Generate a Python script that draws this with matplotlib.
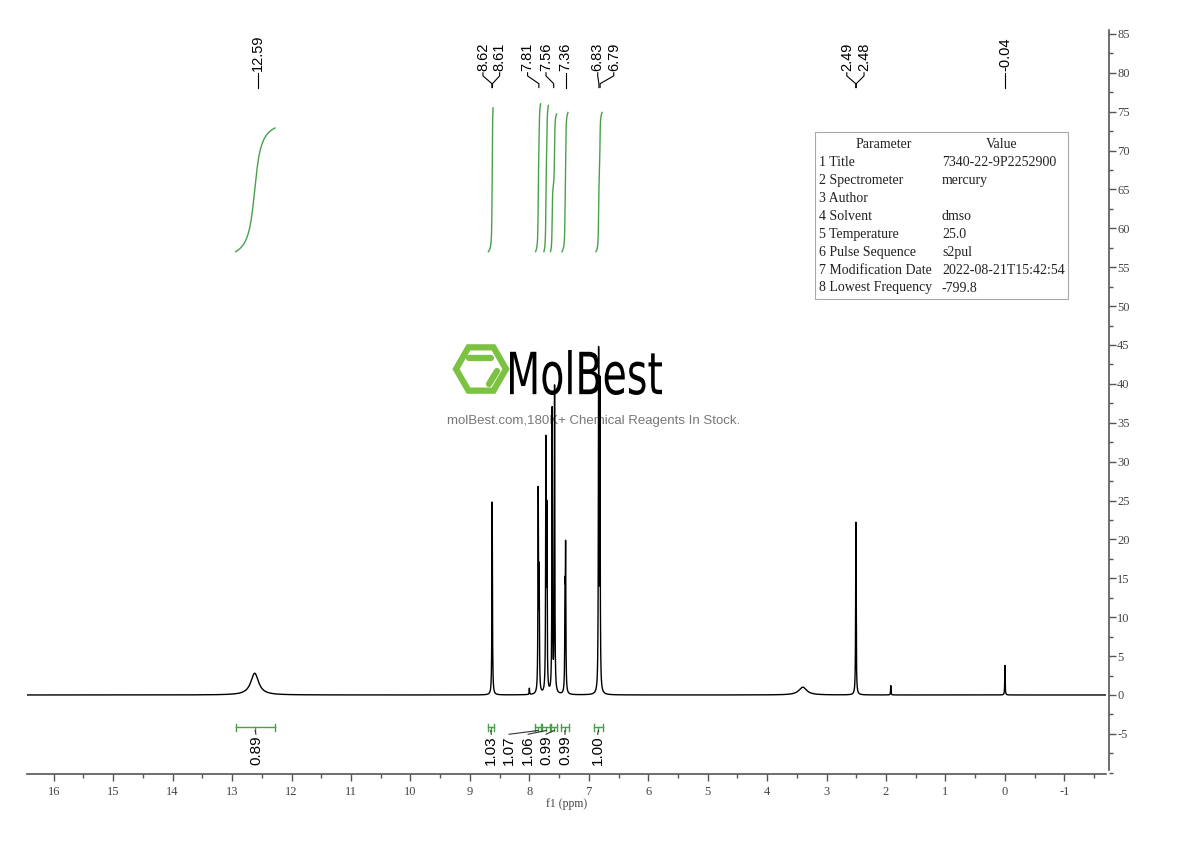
import numpy as np
import matplotlib
matplotlib.use("Agg")
import matplotlib.pyplot as plt
from matplotlib.patches import RegularPolygon, Rectangle, PathPatch
from matplotlib.textpath import TextPath
from matplotlib.font_manager import FontProperties
from matplotlib.transforms import Affine2D
from matplotlib.ticker import FixedLocator, MultipleLocator

plt.rcParams['font.family'] = ['Liberation Sans', 'DejaVu Sans']

# ---------------- data ----------------
# spectrum peaks (ppm, height, half width at half max)
peak_ppm = [12.62, 8.625, 8.000, 7.851, 7.835, 7.722, 7.705, 7.616, 7.576,
            7.400, 7.390, 6.835, 6.813, 3.40, 2.507, 1.92, 0.00]
peak_height = [2.8, 24.8, 0.8, 25.4, 14.7, 31.4, 22.3, 36.3, 39.2,
               11.5, 17.5, 42.9, 38.9, 1.0, 22.2, 1.2, 3.8]
peak_hwhm = [0.08, 0.005, 0.004, 0.005, 0.005, 0.005, 0.005, 0.005, 0.005,
             0.005, 0.005, 0.005, 0.005, 0.08, 0.005, 0.004, 0.004]

# top peak labels
top_labels = ['12.59', '8.62', '8.61', '7.81', '7.56', '7.36', '6.83', '6.79', '2.49', '2.48', '-0.04']
top_label_x = [12.57, 8.78, 8.50, 8.03, 7.72, 7.39, 6.85, 6.58, 2.66, 2.37, 0.00]
top_target_x = [12.57, 8.63, 8.62, 7.84, 7.59, 7.39, 6.83, 6.81, 2.51, 2.50, 0.00]

# integral curves (start ppm, end ppm, top value)
int_start = [12.94, 8.69, 7.895, 7.755, 7.645, 7.45, 6.88]
int_end = [12.28, 8.61, 7.81, 7.68, 7.54, 7.35, 6.775]
int_top = [72.9, 75.5, 76.0, 75.8, 74.7, 74.9, 74.9]
int_bottom = 57.0

# integration brackets / values
int_values = ['0.89', '1.03', '1.07', '1.06', '0.99', '0.99', '1.00']
br_hi = [12.94, 8.70, 7.907, 7.78, 7.64, 7.475, 6.915]
br_lo = [12.28, 8.60, 7.80, 7.66, 7.53, 7.33, 6.76]
val_label_x = [12.60, 8.64, 8.34, 8.02, 7.72, 7.40, 6.85]

# x/y ticks
x_ticks = list(range(16, -2, -1))
y_ticks = list(range(-5, 90, 5))

# parameter table
param_names = ['1 Title', '2 Spectrometer', '3 Author', '4 Solvent', '5 Temperature',
               '6 Pulse Sequence', '7 Modification Date', '8 Lowest Frequency']
param_values = ['7340-22-9P2252900', 'mercury', '', 'dmso', '25.0', 's2pul',
                '2022-08-21T15:42:54', '-799.8']

# ---------------- figure ----------------
W, H = 1190, 841
fig = plt.figure(figsize=(W / 100, H / 100), dpi=100)

# overlay (pixel coordinates) for watermark and table
ov = fig.add_axes([0, 0, 1, 1], zorder=0)
ov.set_xlim(0, W)
ov.set_ylim(H, 0)
ov.axis('off')

ax = fig.add_axes([27 / W, (H - 774) / H, (1106 - 27) / W, (774 - 30) / H], zorder=1)
ax.patch.set_alpha(0)
xmin, xmax = 16.45, -1.70
ax.set_xlim(xmin, xmax)
ax.set_ylim(-10.16, 85.5)

# spectrum
x = np.linspace(xmin, xmax, 36301)
spec = np.zeros_like(x)
for p, h, w in zip(peak_ppm, peak_height, peak_hwhm):
    spec += h / (1 + ((x - p) / w) ** 2)
ax.plot(x, spec, color='black', lw=1.0, zorder=3)

green = '#4aa04a'
# integral curves
for s, e, top in zip(int_start, int_end, int_top):
    m = (x <= s) & (x >= e)
    c = np.cumsum(spec[m])
    c = (c - c[0]) / (c[-1] - c[0])
    ax.plot(x[m], int_bottom + (top - int_bottom) * c, color=green, lw=1.0, zorder=3)

# integration brackets and labels
br_y = -4.12
tk = 0.45
for v, hi, lo, lx in zip(int_values, br_hi, br_lo, val_label_x):
    ax.plot([hi, lo], [br_y, br_y], color=green, lw=1.0)
    ax.plot([hi, hi], [br_y - tk, br_y + tk], color=green, lw=1.0)
    ax.plot([lo, lo], [br_y - tk, br_y + tk], color=green, lw=1.0)
    cx = (hi + lo) / 2
    ax.plot([cx, cx], [br_y, br_y - tk], color=green, lw=1.0)
    ax.plot([cx, lx], [br_y - tk, -5.05], color='#333333', lw=0.8)
    ax.text(lx, -5.2, v, rotation=90, ha='center', va='top', fontsize=11, color='black')

# top peak labels
for s, lx, tx in zip(top_labels, top_label_x, top_target_x):
    ax.plot([lx, lx, tx, tx], [80.0, 79.6, 78.6, 78.1], color='black', lw=0.8)
    ax.text(lx, 80.2, s, rotation=90, ha='center', va='bottom', fontsize=10.5)

# axes styling
for sp in ['top', 'left']:
    ax.spines[sp].set_visible(False)
axis_col = '#555555'
ax.spines['right'].set_color(axis_col)
ax.spines['bottom'].set_color(axis_col)
ax.spines['right'].set_linewidth(1.2)
ax.spines['bottom'].set_linewidth(1.2)
ax.spines['right'].set_bounds(-9.6, 85.5)
ax.spines['right'].set_position(('outward', 2))
ax.yaxis.tick_right()
ax.yaxis.set_major_locator(FixedLocator(y_ticks))
ax.set_yticklabels([str(t) for t in y_ticks])
ax.yaxis.set_minor_locator(MultipleLocator(2.5))
ax.xaxis.set_major_locator(FixedLocator(x_ticks))
ax.set_xticklabels([str(t) for t in x_ticks])
ax.xaxis.set_minor_locator(MultipleLocator(0.5))
serif = ['Liberation Serif', 'DejaVu Serif']
ax.tick_params(axis='both', which='major', length=5, width=1, color=axis_col,
               labelcolor='#444444', labelsize=9, direction='out')
ax.tick_params(axis='both', which='minor', length=3, width=1, color=axis_col, direction='out')
ax.tick_params(axis='y', pad=1)
for lab in ax.get_xticklabels() + ax.get_yticklabels():
    lab.set_family(serif)
ax.set_xlabel('f1 (ppm)', fontsize=8.5, family=serif, color='#444444', labelpad=0)

# ---------------- watermark ----------------
lg = '#7cc242'
hexa = RegularPolygon((481, 369), numVertices=6, radius=25, orientation=np.pi / 6,
                      fill=False, edgecolor=lg, lw=4.5)
ov.add_patch(hexa)
ov.plot([469, 491], [358, 358], color=lg, lw=4.5, solid_capstyle='round')
ov.plot([497, 489], [371, 384], color=lg, lw=4.5, solid_capstyle='round')
tp = TextPath((0, 0), 'MolBest', size=1, prop=FontProperties(family='DejaVu Sans'))
bb = tp.get_extents()
tr = Affine2D().translate(-bb.x0, -bb.y0).scale(152 / bb.width, -45 / bb.height).translate(510, 395)
ov.add_patch(PathPatch(tr.transform_path(tp), facecolor='black', edgecolor='none'))
ov.text(594, 421, 'molBest.com,180K+ Chemical Reagents In Stock.', ha='center', va='center',
        fontsize=9.5, color='#777777')

# ---------------- parameter table ----------------
ov.add_patch(Rectangle((815, 132), 253, 167, fill=False, edgecolor='#aaaaaa', lw=0.8))
tfont = dict(fontsize=10, family=serif, color='#222222', va='center')
ov.text(884, 144, 'Parameter', ha='center', **tfont)
ov.text(1002, 144, 'Value', ha='center', **tfont)
for i, (n, v) in enumerate(zip(param_names, param_values)):
    yy = 162 + i * 18
    ov.text(819, yy, n, ha='left', **tfont)
    ov.text(942, yy, v, ha='left', **tfont)

fig.savefig('out.png', dpi=100)
